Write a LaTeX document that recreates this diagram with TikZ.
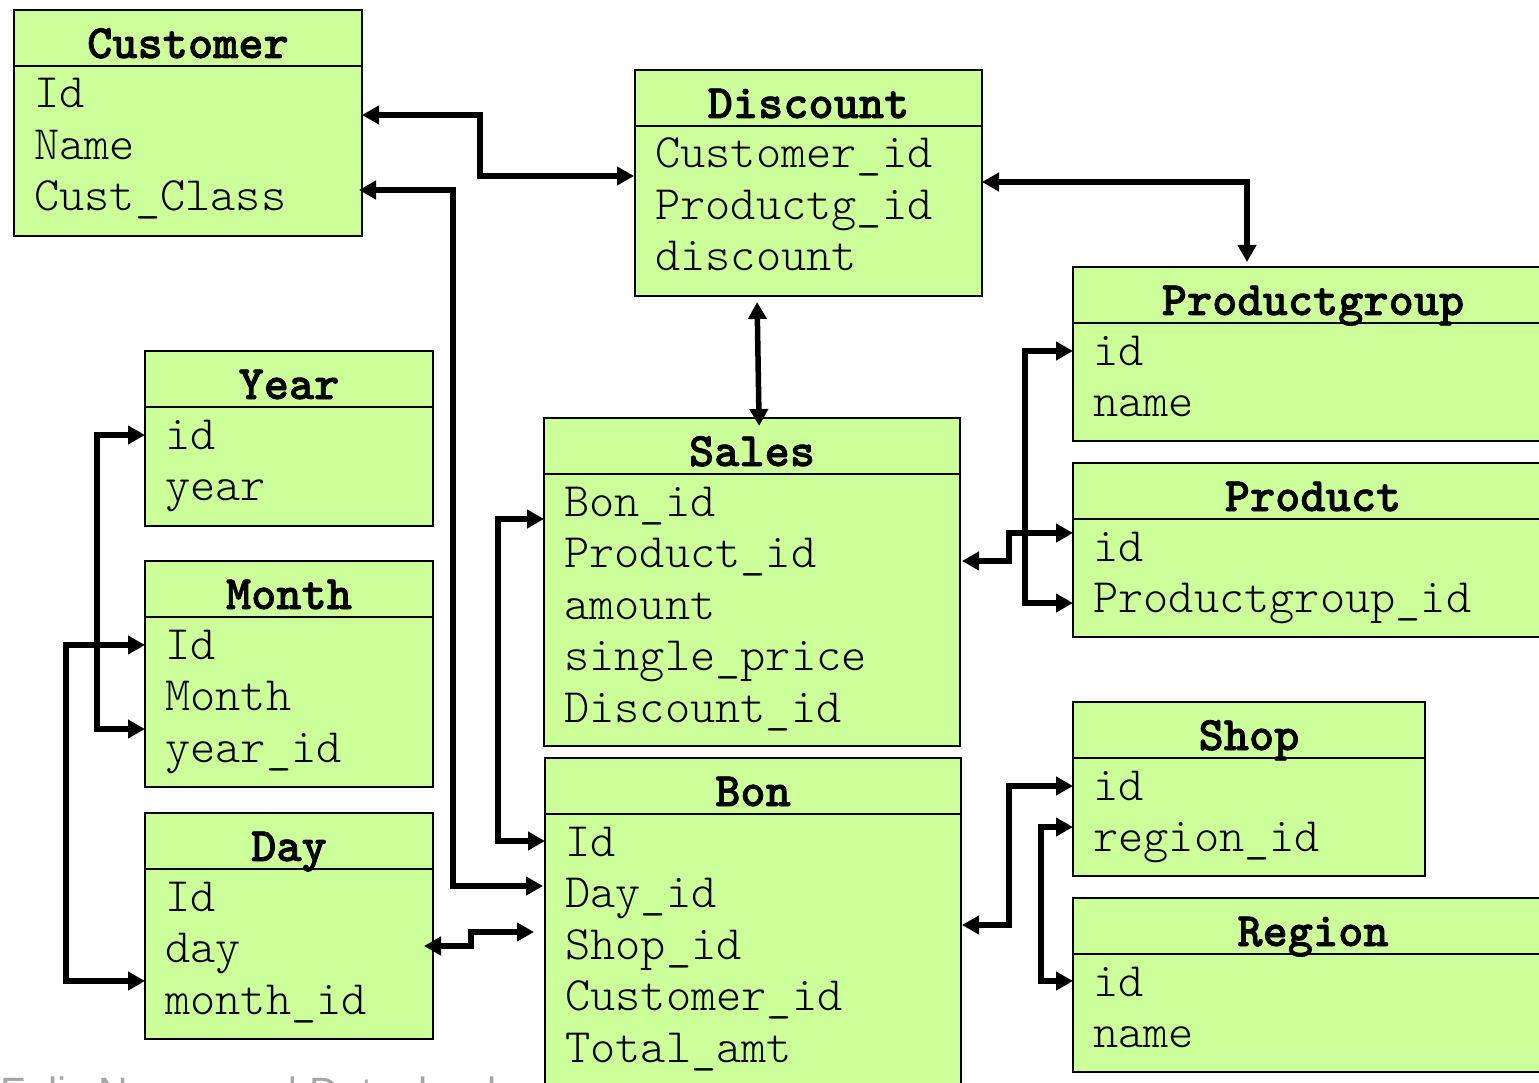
\documentclass[tikz,border=0pt]{standalone}
\usepackage{fontspec}
\setsansfont{Liberation Sans}
\newfontfamily\rowfont{lmmonolt10-regular}[Extension=.otf, BoldFont=lmmonolt10-bold, BoldFeatures={FakeBold=1.5}]
\usetikzlibrary{arrows.meta}
\definecolor{boxgreen}{HTML}{CCFF99}
\definecolor{footgray}{HTML}{A6A6A6}
\tikzset{
  tblbox/.style={draw=black, fill=boxgreen, line width=2.5pt, inner sep=0pt, outer sep=0pt},
  tblline/.style={draw=black, line width=2.5pt},
  tbltitle/.style={inner sep=0pt, anchor=base, font=\fontsize{48pt}{51pt}\selectfont\rowfont\bfseries},
  tblrow/.style={inner sep=0pt, anchor=base west, font=\fontsize{48pt}{51pt}\selectfont\rowfont},
  link/.style={line width=5.5pt, line join=miter,
    arrows={Triangle[length=17pt,width=18pt]-Triangle[length=17pt,width=18pt]}},
}
\newcommand\dbtbl[7]{%
  \node[tblbox, minimum width=#4pt, minimum height=#5pt, anchor=north west] (#1) at (#2,#3) {};
  \draw[tblline] ([yshift=-56pt]#1.north west) -- ([yshift=-56pt]#1.north east);
  \node[tbltitle] (#1-title) at ([yshift=-48pt]#1.north) {#6};
  \foreach \rowtxt [count=\i] in {#7} {
    \node[tblrow] (#1-\i) at ([xshift=20pt,yshift={-98pt-(\i-1)*51.5pt}]#1.north west) {\rowtxt};
  }%
}
\begin{document}
\begin{tikzpicture}[x=1pt,y=-1pt]
\useasboundingbox (0,0) rectangle (1539,1083);
\clip (0,0) rectangle (1539,1083);
\fill[white] (0,0) rectangle (1539,1083);

\node[anchor=base west, inner sep=0pt, text=footgray,
  font=\sffamily\fontsize{41pt}{41pt}\selectfont] (footer) at (0,1106)
  {Felix Naumann | Datenbanksysteme};

\dbtbl{customer}{14}{10}{348}{226}{Customer}{Id, Name, Cust\_Class}
\dbtbl{discount}{635}{70}{347}{226}{Discount}{Customer\_id, Productg\_id, discount}
\dbtbl{productgroup}{1073}{267}{480}{174}{Productgroup}{id, name}
\dbtbl{product}{1073}{463}{480}{174}{Product}{id, Productgroup\_id}
\dbtbl{shop}{1073}{702}{352}{174}{Shop}{id, region\_id}
\dbtbl{region}{1073}{898}{480}{174}{Region}{id, name}
\dbtbl{year}{145}{351}{288}{175}{Year}{id, year}
\dbtbl{month}{145}{561}{288}{226}{Month}{Id, Month, year\_id}
\dbtbl{day}{145}{813}{288}{226}{Day}{Id, day, month\_id}
\dbtbl{sales}{544}{418}{416}{328}{Sales}{Bon\_id, Product\_id, amount, single\_price, Discount\_id}
\dbtbl{bon}{545}{758}{416}{328}{Bon}{Id, Day\_id, Shop\_id, Customer\_id, Total\_amt}

% connectors
\draw[link] (customer.east |- 0,115) -| (480,176) -- ([xshift=-1pt]discount.west |- 0,176);
\draw[link, shorten <=-3pt] (customer.east |- 0,190) -| (453,886) -- ([xshift=-2pt]bon.west |- 0,886);
\draw[link, shorten >=5pt] (discount.east |- 0,182) -| (productgroup.north -| 1247,0);
\draw[link, shorten <=6pt, shorten >=-8pt] (discount.south -| 757,0) -- (sales.north -| 759,0);
\draw[link, shorten <=2pt] (sales.east |- 0,561) -| (1009,533) -- (product.west |- 0,533);
\draw[link] (productgroup.west |- 0,351) -| (1025,603) -- (product.west |- 0,603);
\draw[link, shorten <=1pt] (bon.east |- 0,925) -| (1009,786) -- (shop.west |- 0,786);
\draw[link] (shop.west |- 0,827) -| (1041,981) -- (region.west |- 0,981);
\draw[link] (year.west |- 0,435) -| (97,729) -- (month.west |- 0,729);
\draw[link] (month.west |- 0,645) -| (66,981) -- (day.west |- 0,981);
\draw[link, shorten <=-9pt, shorten >=11pt] (day.east |- 0,946) -| (471,932) -- (bon.west |- 0,932);
\draw[link] (sales.west |- 0,519) -| (498,841) -- (bon.west |- 0,841);
\end{tikzpicture}
\end{document}
